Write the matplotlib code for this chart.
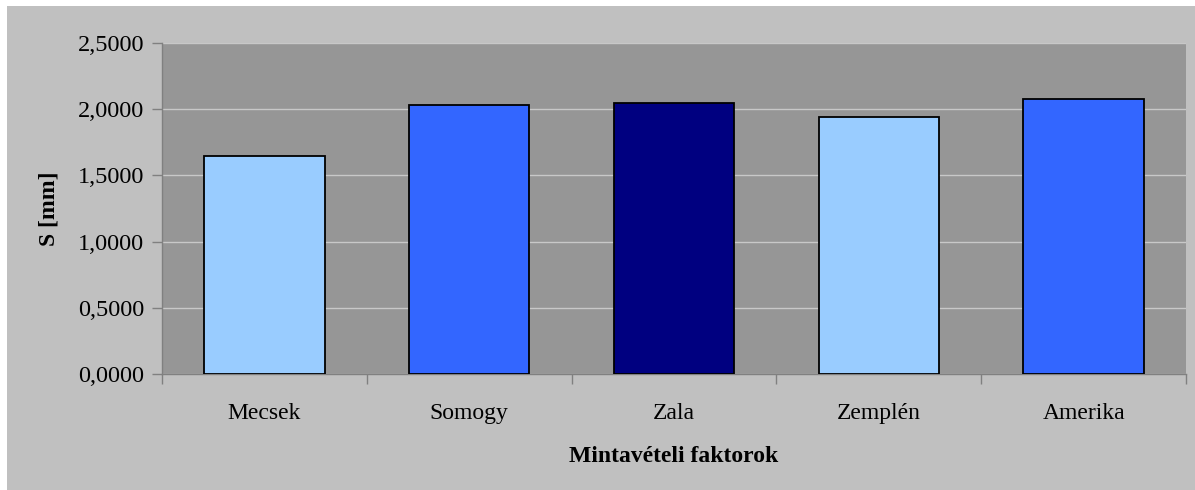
import matplotlib.pyplot as plt
import numpy as np
from matplotlib.patches import Rectangle
from matplotlib.ticker import FuncFormatter, FixedLocator

plt.rcParams['font.family'] = ['Liberation Serif', 'DejaVu Serif']

# mintavételi helyek és szórás értékek
categories = ['Mecsek', 'Somogy', 'Zala', 'Zemplén', 'Amerika']
values = [1.649, 2.035, 2.048, 1.942, 2.078]
colors = ['#99ccff', '#3366ff', '#000080', '#99ccff', '#3366ff']

fig = plt.figure(figsize=(11.95, 4.9), dpi=100)
fig.patch.set_facecolor('white')
# szürke keret a diagram körül
fig.patches.append(Rectangle((7 / 1195, 0), 1 - 7 / 1195, 1 - 6 / 490,
                             transform=fig.transFigure, facecolor='#c0c0c0',
                             edgecolor='none', zorder=-10))

ax = fig.add_axes([162 / 1195, 1 - 374 / 490, (1186 - 162) / 1195, (374 - 43) / 490])
ax.set_facecolor('#969696')

x = np.arange(len(categories))
ax.bar(x, values, width=0.588, color=colors, edgecolor='black', linewidth=1.3, zorder=3)

ax.set_xlim(-0.5, len(categories) - 0.5)
ax.set_ylim(0, 2.5)
ax.set_yticks(np.arange(0, 2.51, 0.5))
ax.yaxis.set_major_formatter(FuncFormatter(lambda v, p: f'{v:.4f}'.replace('.', ',')))
ax.grid(axis='y', color='#c8c8c8', linewidth=1, zorder=1)

# kategóriahatárokon lévő osztásjelek, feliratok középen
ax.xaxis.set_major_locator(FixedLocator(np.arange(-0.5, len(categories), 1)))
ax.xaxis.set_major_formatter(FuncFormatter(lambda v, p: ''))
ax.xaxis.set_minor_locator(FixedLocator(x))
ax.set_xticklabels(categories, minor=True)
ax.tick_params(axis='x', which='minor', length=0, pad=21, labelsize=17)
ax.tick_params(axis='x', which='major', length=7, color='#808080', width=1)
ax.tick_params(axis='y', length=7, color='#808080', width=1, pad=6, labelsize=17.5)

for side in ['top', 'right']:
    ax.spines[side].set_visible(False)
for side in ['left', 'bottom']:
    ax.spines[side].set_color('#808080')
    ax.spines[side].set_linewidth(1)

ax.set_xlabel('Mintavételi faktorok', fontsize=17, fontweight='bold', labelpad=16)
ax.set_ylabel('S [mm]', fontsize=17, fontweight='bold', labelpad=13)

fig.savefig('out.png', dpi=100, facecolor=fig.get_facecolor())
